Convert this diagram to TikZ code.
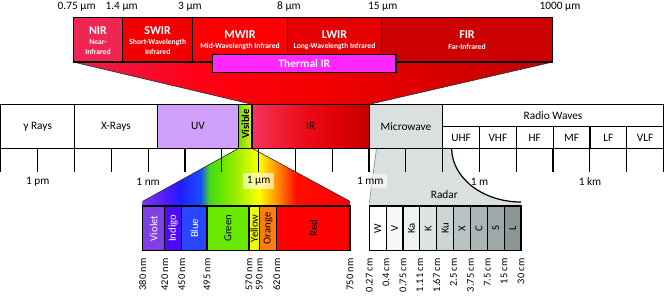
\documentclass[tikz,border=0pt]{standalone}
\usepackage{fontspec}
\setmainfont{Carlito}
\pgfdeclarelayer{bg}
\pgfsetlayers{bg,main}
\pgfdeclarehorizontalshading{irtrap}{100bp}{rgb(0bp)=(0.92,0.12,0.32); rgb(25bp)=(0.92,0.12,0.32); rgb(38bp)=(1,0,0.08); rgb(50bp)=(0.96,0,0); rgb(75bp)=(0.74,0,0); rgb(100bp)=(0.74,0,0)}
\pgfdeclarehorizontalshading{irbox}{100bp}{rgb(0bp)=(0.97,0.2,0.36); rgb(25bp)=(0.97,0.2,0.36); rgb(45bp)=(0.93,0.06,0.12); rgb(60bp)=(0.88,0,0.02); rgb(75bp)=(0.76,0,0); rgb(100bp)=(0.76,0,0)}
\pgfdeclarehorizontalshading{visbox}{100bp}{rgb(0bp)=(0.45,0.85,0.05); rgb(25bp)=(0.45,0.85,0.05); rgb(75bp)=(0.92,0.95,0); rgb(100bp)=(0.92,0.95,0)}
\pgfdeclarehorizontalshading{visspec}{100bp}{rgb(0bp)=(0.5,0.22,0.92); rgb(25bp)=(0.5,0.22,0.92); rgb(31bp)=(0.3,0.1,0.98); rgb(34bp)=(0.12,0.12,1); rgb(39bp)=(0.1,0.3,1); rgb(41bp)=(0.25,0.85,0.1); rgb(44bp)=(0.4,0.9,0); rgb(49bp)=(0.7,0.95,0); rgb(53bp)=(1,1,0); rgb(57bp)=(1,0.6,0); rgb(62bp)=(1,0.05,0); rgb(75bp)=(1,0,0); rgb(100bp)=(1,0,0)}
\definecolor{cNIR}{RGB}{240,38,82}
\definecolor{cSWIR}{RGB}{240,0,0}
\definecolor{cMWIR}{RGB}{252,0,4}
\definecolor{cLWIR}{RGB}{228,0,0}
\definecolor{cFIR}{RGB}{205,0,0}
\definecolor{cTIR}{RGB}{255,40,255}
\definecolor{cUV}{RGB}{208,160,250}
\definecolor{cMW}{RGB}{218,224,224}
\definecolor{cVio}{RGB}{128,64,230}
\definecolor{cInd}{RGB}{78,10,242}
\definecolor{cBlu}{RGB}{40,70,255}
\definecolor{cGrn}{RGB}{105,232,0}
\definecolor{cYel}{RGB}{240,250,0}
\definecolor{cOrg}{RGB}{255,125,15}
\definecolor{cRed}{RGB}{255,0,0}
\definecolor{rad0}{RGB}{255,255,255}
\definecolor{rad1}{RGB}{246,248,248}
\definecolor{rad2}{RGB}{238,242,242}
\definecolor{rad3}{RGB}{222,228,228}
\definecolor{rad4}{RGB}{204,212,212}
\definecolor{rad5}{RGB}{186,195,195}
\definecolor{rad6}{RGB}{172,181,181}
\definecolor{rad7}{RGB}{158,168,168}
\definecolor{rad8}{RGB}{140,150,150}
\newcommand\fs[1]{\fontsize{#1}{#1}\selectfont}
\newcommand\pbox[7]{\node[bx,minimum width={(#4-(#2))*0.75pt},minimum height={(#5-(#3))*0.75pt},#6] (#1) at (#2,#3) {#7};}
\tikzset{
 bx/.style={draw=black,line width=0.9pt,inner sep=0pt,outer sep=0pt,anchor=north west},
 lbl/.style={inner sep=0pt,font=\fs{8.5}},
 wt/.style={inner sep=0pt,text=white,font=\bfseries\fs{9}},
 sub/.style={inner sep=0pt,text=white,font=\bfseries\fs{5.7}},
 vl/.style={rotate=90,inner sep=0pt,font=\fs{8}},
 wl/.style={rotate=90,anchor=east,inner sep=0pt,font=\fs{7.8}},
 tickline/.style={line width=0.9pt},
 edge/.style={line width=0.5pt,draw=black!80},
 lbg/.style={fill=white,fill opacity=0.6,text opacity=1,inner sep=2.5pt,font=\fs{8.5}},
}
\begin{document}
\begin{tikzpicture}[x=0.75pt,y=-0.75pt]
\useasboundingbox (0,0) rectangle (664,299);
% top wavelength labels
\node[lbl,anchor=base] (u0) at (76.7,9.6) {0.75 µm};
\node[lbl,anchor=base] (u1) at (121.7,9.6) {1.4 µm};
\node[lbl,anchor=base] (u2) at (190,9.6) {3 µm};
\node[lbl,anchor=base] (u3) at (289,9.6) {8 µm};
\node[lbl,anchor=base] (u4) at (382.7,9.6) {15 µm};
\node[lbl,anchor=base] (u5) at (560,9.6) {1000 µm};
% IR detail boxes
\pbox{nir}{73.3}{17.5}{122.7}{62}{fill=cNIR}{}
\pbox{swir}{122.7}{17.5}{192.7}{62}{fill=cSWIR}{}
\pbox{mwir}{192.7}{17.5}{287.3}{62}{fill=cMWIR}{}
\pbox{lwir}{287.3}{17.5}{381.7}{62}{fill=cLWIR}{}
\pbox{fir}{381.7}{17.5}{552.7}{62}{fill=cFIR}{}
\node[wt] (nirT) at (98,30.7) {NIR};
\node[sub] (nirS1) at (98,42.3) {Near-};
\node[sub] (nirS2) at (98,52.3) {Infrared};
\node[wt] (swirT) at (157.7,30.7) {SWIR};
\node[sub] (swirS1) at (157.7,42.3) {Short-Wavelength};
\node[sub] (swirS2) at (157.7,52.3) {Infrared};
\node[wt] (mwirT) at (240,34.7) {MWIR};
\node[sub] (mwirS) at (240,46.5) {Mid-Wavelength Infrared};
\node[wt] (lwirT) at (334.5,34.7) {LWIR};
\node[sub] (lwirS) at (334.5,46.5) {Long-Wavelength Infrared};
\node[wt] (firT) at (467,34.7) {FIR};
\node[sub] (firS) at (467,46.5) {Far-Infrared};
\pbox{tir}{212.7}{54.3}{396}{72.7}{fill=cTIR}{}
\node[wt,font=\bfseries\fs{8.6}] (tirT) at (tir.center) {Thermal IR};
% main band
\pbox{gam}{0.9}{104.3}{74.5}{148.3}{fill=white}{}
\node[lbl] (gamT) at (gam.center) {γ Rays};
\pbox{xr}{74.5}{104.3}{157.3}{148.3}{fill=white}{}
\node[lbl] (xrT) at (xr.center) {X-Rays};
\pbox{uv}{157.3}{104.3}{238.7}{148.3}{fill=cUV}{}
\node[lbl] (uvT) at (uv.center) {UV};
\pbox{vis}{238.7}{104.3}{252}{148.3}{shading=visbox}{}
\node[vl,font=\bfseries\fs{8}] (visT) at (245.3,124) {Visible};
\pbox{ir}{252}{104.3}{369.3}{148.3}{shading=irbox}{}
\node[lbl] (irT) at (ir.center) {IR};
\pbox{mw}{369.3}{104.3}{442.7}{148.3}{fill=cMW}{}
\node[lbl] (mwT) at (mw.center) {Microwave};
\pbox{rw}{442.7}{104.3}{663.4}{126.7}{fill=white}{}
\node[lbl] (rwT) at (rw.center) {Radio Waves};
\foreach \lab/\xa/\xb [count=\i] in {UHF/442.7/479.5,VHF/479.5/516.3,HF/516.3/553.2,MF/553.2/590,LF/590/626.8,VLF/626.8/663.4}{
  \pbox{rb\i}{\xa}{126.7}{\xb}{148.3}{fill=white}{}
  \node[lbl] (rbT\i) at (rb\i.center) {\lab};
}
% visible spectrum boxes
\foreach \lab/\xa/\xb/\c/\tc [count=\i] in {Violet/142.7/164.7/cVio/white,Indigo/164.7/181.7/cInd/white,Blue/181.7/207/cBlu/white,Green/207/249/cGrn/black,Yellow/249/259.3/cYel/black,Orange/259.3/276.7/cOrg/black,Red/276.7/350/cRed/black}{
  \pbox{sp\i}{\xa}{206}{\xb}{250.7}{fill=\c}{}
  \node[vl,text=\tc] (spT\i) at (sp\i.center) {\lab};
}
% radar boxes
\foreach \lab [count=\i from 0] in {W,V,Ka,K,Ku,X,C,S,L}{
  \pgfmathsetmacro\xa{369.3+\i*16.86}
  \pgfmathsetmacro\xb{369.3+(\i+1)*16.86}
  \pbox{rd\i}{\xa}{206}{\xb}{250.7}{fill=rad\i}{}
  \node[vl] (rdT\i) at (rd\i.center) {\lab};
}
% trapezoids on background
\coordinate (vtl) at (142.7,201.3);
\coordinate (vtr) at (350,201.3);
\coordinate (rtl) at (376.5,148.3);
\coordinate (rtr) at (451.7,148.3);
\coordinate (rbl) at (369.3,203);
\coordinate (rbr) at (521,202);
\begin{pgfonlayer}{bg}
\shade[shading=irtrap] (nir.south west) -- (ir.north west) -- (ir.north east) -- (fir.south east) -- cycle;
\draw[edge] (nir.south west) -- (ir.north west);
\draw[edge] (fir.south east) -- (ir.north east);
\shade[shading=visspec] (vis.south west) -- (vtl) -- (sp1.north west) -- (sp7.north east) -- (vtr) -- (vis.south east) -- cycle;
\draw[edge] (vis.south west) -- (vtl);
\draw[edge] (vis.south east) -- (vtr);
\fill[cMW] (rtl) -- (rbl) -- (rd0.north west) -- (rd8.north east) -- (rbr) .. controls (483,202) and (451.7,178) .. (rtr) -- cycle;
\draw[line width=0.5pt,draw=black!45] (rtl) -- (rbl);
\draw[line width=0.9pt] (rbr) .. controls (483,202) and (451.7,178) .. (rtr);
\end{pgfonlayer}
\node[lbl] (radarT) at (444.3,195) {Radar};
% ticks
\foreach \k in {0,...,18}{
  \draw[tickline] ({0.9+\k*36.81},148.3) -- ({0.9+\k*36.81},171.7);
}
\node[lbl] (s1) at (37.7,182) {1 pm};
\node[lbl] (s2) at (148.1,182) {1 nm};
\node[lbg] (s3) at (258.6,181.2) {1 µm};
\node[lbg] (s4) at (370.3,181.2) {1 mm};
\node[lbl] (s5) at (479.5,182) {1 m};
\node[lbl] (s6) at (590,182) {1 km};
% wavelength labels
\foreach \t/\x [count=\i] in {380/142.7,420/164.7,450/181.7,495/207,570/249,590/259.3,620/276.7,750/350}{
  \node[wl] (nm\i) at (\x,258.3) {\t\ nm};
}
\foreach \t [count=\i from 0] in {0.27,0.4,0.75,1.11,1.67,2.5,3.75,7.5,15,30}{
  \node[wl] (cm\i) at ({369.3+\i*16.86},258.3) {\t\ cm};
}
\end{tikzpicture}
\end{document}
